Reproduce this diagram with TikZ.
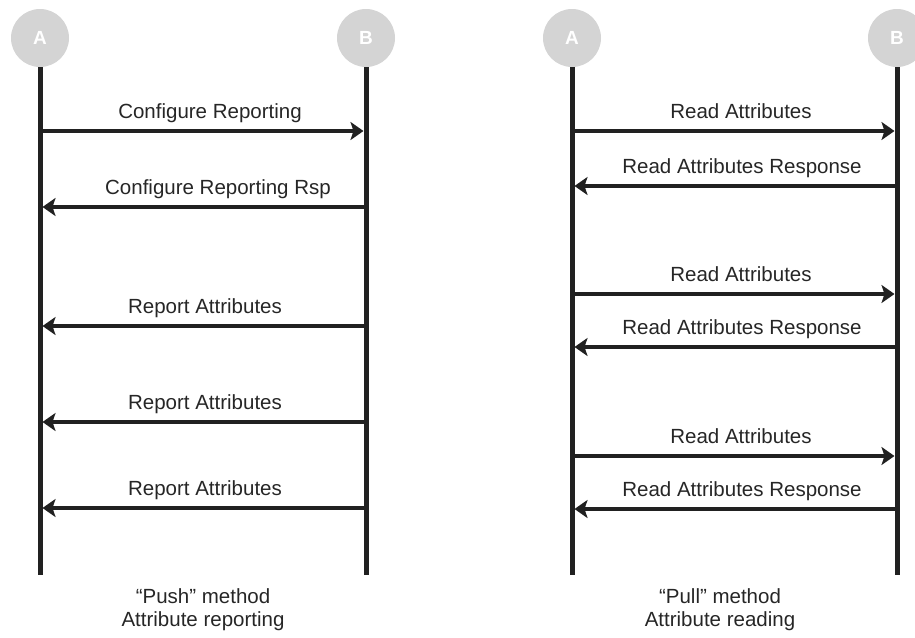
\documentclass[tikz,border=0pt]{standalone}
\usepackage{fontspec}
\setmainfont{Liberation Sans}
\usetikzlibrary{arrows.meta}
\begin{document}
\begin{tikzpicture}[x=1pt,y=-1pt,
  actor/.style={circle,fill=black!17,minimum size=58pt,inner sep=0pt,text=white,font=\fontsize{19}{22}\selectfont\bfseries},
  lifeline/.style={line width=5pt,draw=black!87},
  msg/.style={line width=3.2pt,draw=black!87,-{Stealth[length=13pt,width=18pt,inset=3pt]}},
  lbl/.style={anchor=base,text=black!85,font=\fontsize{20.5}{24}\selectfont,inner sep=0pt},
  captxt/.style={anchor=north,align=center,text=black!85,font=\fontsize{20.5}{23}\selectfont,inner sep=0pt}]
\useasboundingbox (0,0) rectangle (915,637);
% left diagram
\node[actor] (A1) at (40,38) {A};
\node[actor] (B1) at (366,38) {B};
\coordinate (A1t) at (40,67); \coordinate (A1b) at (40,575);
\coordinate (B1t) at (366,67); \coordinate (B1b) at (366,575);
\draw[lifeline] (A1t) -- (A1b);
\draw[lifeline] (B1t) -- (B1b);
\foreach \y/\n in {131/1,207/2,326/3,422/4,508/5}{
  \coordinate (la\n) at (42.5,\y);
  \coordinate (lb\n) at (366,\y);
  \coordinate (lbe\n) at (363.5,\y);
  \coordinate (las\n) at (40,\y);
}
\draw[msg] (las1) -- (lbe1);
\draw[msg] (lb2) -- (la2);
\draw[msg] (lb3) -- (la3);
\draw[msg] (lb4) -- (la4);
\draw[msg] (lb5) -- (la5);
\node[lbl] (t1) at (210,118) {Configure Reporting};
\node[lbl] (t2) at (218,194) {Configure Reporting Rsp};
\node[lbl] (t3) at (205,313) {Report Attributes};
\node[lbl] (t4) at (205,409) {Report Attributes};
\node[lbl] (t5) at (205,495) {Report Attributes};
\node[captxt] (c1) at (203,588) {``Push'' method\\Attribute reporting};
% right diagram
\node[actor] (A2) at (572,38) {A};
\node[actor] (B2) at (897,38) {B};
\coordinate (A2t) at (572,67); \coordinate (A2b) at (572,575);
\coordinate (B2t) at (897,67); \coordinate (B2b) at (897,575);
\draw[lifeline] (A2t) -- (A2b);
\draw[lifeline] (B2t) -- (B2b);
\foreach \y/\n in {131/1,186/2,294/3,347/4,456/5,509/6}{
  \coordinate (ra\n) at (574.5,\y);
  \coordinate (ras\n) at (572,\y);
  \coordinate (rb\n) at (894.5,\y);
  \coordinate (rbs\n) at (897,\y);
}
\draw[msg] (ras1) -- (rb1);
\draw[msg] (rbs2) -- (ra2);
\draw[msg] (ras3) -- (rb3);
\draw[msg] (rbs4) -- (ra4);
\draw[msg] (ras5) -- (rb5);
\draw[msg] (rbs6) -- (ra6);
\node[lbl] (s1) at (741,118) {Read Attributes};
\node[lbl] (s2) at (742,173) {Read Attributes Response};
\node[lbl] (s3) at (741,281) {Read Attributes};
\node[lbl] (s4) at (742,334) {Read Attributes Response};
\node[lbl] (s5) at (741,443) {Read Attributes};
\node[lbl] (s6) at (742,496) {Read Attributes Response};
\node[captxt] (c2) at (720,588) {``Pull'' method\\Attribute reading};
\end{tikzpicture}
\end{document}
